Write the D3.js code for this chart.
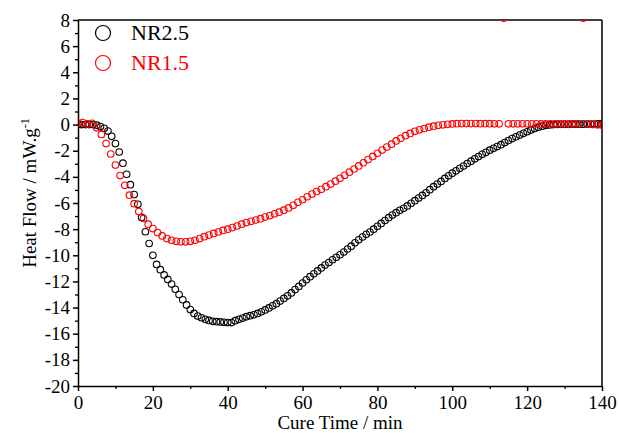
<!DOCTYPE html>
<html>
<head>
<meta charset="utf-8">
<script src="https://cdn.jsdelivr.net/npm/d3@7"></script>
<style>
  body { margin: 0; background: #fff; }
  svg text { font-family: "Liberation Serif", "DejaVu Serif", serif; }
</style>
</head>
<body>
<div id="chart"></div>
<script>
// Heat flow curves
var xTicks = [0, 20, 40, 60, 80, 100, 120, 140];
var yTicks = [8, 6, 4, 2, 0, -2, -4, -6, -8, -10, -12, -14, -16, -18, -20];

// NR2.5 sampled every 1 min from 0 to 140
var nr25Step = 1;
var nr25 = [
    0.0, 0.0, 0.0, 0.0, 0.0, -0.05, -0.15, -0.28, -0.5, -0.9,
    -1.45, -2.1, -2.95, -3.8, -4.6, -5.35, -6.1, -7.1, -8.2, -9.1,
    -10.0, -10.7, -11.1, -11.5, -11.85, -12.2, -12.6, -13.0, -13.4, -13.8,
    -14.15, -14.45, -14.65, -14.78, -14.9, -14.98, -15.05, -15.08, -15.1, -15.13,
    -15.15, -15.15, -15.0, -14.9, -14.8, -14.7, -14.62, -14.55, -14.45, -14.32,
    -14.18, -14.03, -13.87, -13.7, -13.5, -13.3, -13.1, -12.88, -12.62, -12.38,
    -12.12, -11.87, -11.64, -11.42, -11.2, -10.97, -10.75, -10.55, -10.34, -10.15,
    -9.96, -9.75, -9.52, -9.3, -9.05, -8.82, -8.6, -8.4, -8.22, -8.0,
    -7.78, -7.56, -7.34, -7.12, -6.92, -6.74, -6.56, -6.4, -6.22, -6.02,
    -5.82, -5.62, -5.42, -5.22, -4.98, -4.75, -4.55, -4.35, -4.12, -3.92,
    -3.72, -3.54, -3.35, -3.17, -2.98, -2.8, -2.62, -2.45, -2.28, -2.12,
    -1.96, -1.82, -1.68, -1.54, -1.38, -1.22, -1.07, -0.93, -0.8, -0.67,
    -0.55, -0.42, -0.3, -0.2, -0.12, -0.06, -0.03, 0.0, 0.01, 0.02,
    0.02, 0.02, 0.03, 0.03, 0.03, 0.03, 0.04, 0.04, 0.04, 0.05,
    0.05
];

// NR1.5 sampled every 1.25 min from 0 to 140 (two spikes clipped at the top)
var nr15Step = 1.25;
var nr15 = [
    0.12, 0.15, 0.05, 0.1, -0.25, -0.75, -1.45, -2.25, -3.1, -3.9,
    -4.65, -5.4, -6.05, -6.65, -7.18, -7.62, -7.96, -8.26, -8.52, -8.72,
    -8.85, -8.93, -8.97, -8.97, -8.93, -8.85, -8.72, -8.58, -8.45, -8.33,
    -8.22, -8.1, -8.0, -7.88, -7.76, -7.62, -7.5, -7.4, -7.3, -7.2,
    -7.08, -6.96, -6.83, -6.7, -6.55, -6.38, -6.18, -5.95, -5.75, -5.52,
    -5.32, -5.12, -4.95, -4.75, -4.55, -4.33, -4.11, -3.88, -3.64, -3.4,
    -3.16, -2.92, -2.68, -2.44, -2.2, -1.95, -1.72, -1.5, -1.25, -1.05,
    -0.85, -0.68, -0.52, -0.4, -0.3, -0.2, -0.12, -0.06, -0.02, 0.02,
    0.05, 0.07, 0.08, 0.08, 0.08, 0.08, 0.07, 0.07, 0.07, 0.06,
    0.06, 8.15, 0.06, 0.06, 0.06, 0.06, 0.06, 0.06, 0.06, 0.05,
    0.05, 0.05, 0.05, 0.05, 0.05, 0.05, 0.05, 0.05, 8.15, 0.03,
    0.0, -0.02, -0.05
];

var margin = { top: 20, right: 17, bottom: 47, left: 78 };
var width = 619 - margin.left - margin.right;
var height = 433 - margin.top - margin.bottom;
var FONT = '"Liberation Serif", "DejaVu Serif", serif';

var svg = d3.select('#chart').append('svg').attr('width', 619).attr('height', 433);
var g = svg.append('g').attr('transform', 'translate(' + margin.left + ',' + margin.top + ')');

var x = d3.scaleLinear().domain([0, 140]).range([0, width]);
var y = d3.scaleLinear().domain([-20, 8]).range([height, 0]);

g.append('clipPath').attr('id', 'plot-clip').append('rect').attr('width', width).attr('height', height);

// minor ticks
g.append('g').attr('transform', 'translate(0,' + height + ')')
    .call(d3.axisBottom(x).tickValues([10, 30, 50, 70, 90, 110, 130]).tickSize(3).tickSizeOuter(0).tickFormat(''))
    .call(function(s) { s.select('.domain').remove(); s.selectAll('line').attr('stroke-width', 1.3); });
g.append('g')
    .call(d3.axisLeft(y).tickValues(d3.range(-19, 8, 2)).tickSize(3).tickSizeOuter(0).tickFormat(''))
    .call(function(s) { s.select('.domain').remove(); s.selectAll('line').attr('stroke-width', 1.3); });

// major ticks
var xAxis = g.append('g').attr('transform', 'translate(0,' + height + ')')
    .call(d3.axisBottom(x).tickValues(xTicks).tickSize(5).tickSizeOuter(0).tickPadding(5));
var yAxis = g.append('g')
    .call(d3.axisLeft(y).tickValues(yTicks).tickSize(5).tickSizeOuter(0).tickPadding(3)
        .tickFormat(function(d) { return d < 0 ? '-' + Math.abs(d) : d; }));
[xAxis, yAxis].forEach(function(a) {
    a.attr('font-family', FONT).attr('font-size', 19);
    a.selectAll('text').attr('fill', '#000');
    a.selectAll('line').attr('stroke-width', 1.5);
    a.select('.domain').attr('stroke-width', 1.5);
});

// frame top and right
g.append('line').attr('x1', 0).attr('x2', width).attr('y1', 0).attr('y2', 0).attr('stroke', '#000').attr('stroke-width', 1.5);
g.append('line').attr('x1', width).attr('x2', width).attr('y1', 0).attr('y2', height).attr('stroke', '#000').attr('stroke-width', 1.5);

var plot = g.append('g').attr('clip-path', 'url(#plot-clip)');

function drawSeries(values, step, color) {
    plot.append('g').selectAll('circle').data(values).enter().append('circle')
        .attr('cx', function(d, i) { return x(i * step); })
        .attr('cy', function(d) { return y(d); })
        .attr('r', 3.3)
        .attr('fill', 'none')
        .attr('stroke', color)
        .attr('stroke-width', 1.1);
}
drawSeries(nr25, nr25Step, '#000');
drawSeries(nr15, nr15Step, '#ff0000');

// legend
var legend = [{ name: 'NR2.5', color: '#000' }, { name: 'NR1.5', color: '#ff0000' }];
var lg = g.selectAll('.legend').data(legend).enter().append('g').attr('class', 'legend')
    .attr('transform', function(d, i) { return 'translate(25,' + (13 + i * 30) + ')'; });
lg.append('circle').attr('r', 7.5).attr('fill', 'none').attr('stroke', function(d) { return d.color; }).attr('stroke-width', 1.2);
lg.append('text').attr('x', 28).attr('y', 7).attr('font-family', FONT).attr('font-size', 22)
    .attr('fill', function(d) { return d.color; })
    .text(function(d) { return d.name; });

// axis titles
g.append('text').attr('x', width / 2).attr('y', height + 43).attr('text-anchor', 'middle')
    .attr('font-family', FONT).attr('font-size', 19)
    .text('Cure Time / min');
var yt = g.append('text').attr('transform', 'translate(-42,' + (height / 2 - 10) + ') rotate(-90)')
    .attr('text-anchor', 'middle').attr('font-family', FONT).attr('font-size', 19);
yt.append('tspan').text('Heat Flow / mW.g');
yt.append('tspan').attr('dy', -7).attr('font-size', 12).text('-1');
</script>
</body>
</html>
